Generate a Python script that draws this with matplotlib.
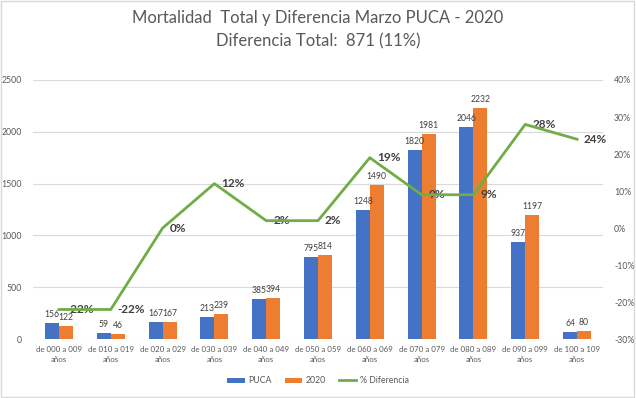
import numpy as np
import matplotlib.pyplot as plt

plt.rcParams['font.family'] = ['Lato', 'DejaVu Sans']

# Grupos de edad
grupos = ['de 000 a 009\naños', 'de 010 a 019\naños', 'de 020 a 029\naños',
          'de 030 a 039\naños', 'de 040 a 049\naños', 'de 050 a 059\naños',
          'de 060 a 069\naños', 'de 070 a 079\naños', 'de 080 a 089\naños',
          'de 090 a 099\naños', 'de 100 a 109\naños']

# Defunciones
puca = [156, 59, 167, 213, 385, 795, 1248, 1820, 2046, 937, 64]
anio_2020 = [122, 46, 167, 239, 394, 814, 1490, 1981, 2232, 1197, 80]

# % diferencia
diferencia = [-22, -22, 0, 12, 2, 2, 19, 9, 9, 28, 24]

azul = '#4472C4'
naranja = '#ED7D31'
verde = '#70AD47'
gris = '#595959'

fig = plt.figure(figsize=(6.36, 3.98), dpi=100)
ax = fig.add_axes([0.052, 0.148, 0.896, 0.651])
ax2 = ax.twinx()

x = np.arange(len(grupos))
w = 0.27
b1 = ax.bar(x - w / 2, puca, w, color=azul, label='PUCA', zorder=2)
b2 = ax.bar(x + w / 2, anio_2020, w, color=naranja, label='2020', zorder=2)

for barras in (b1, b2):
    for b in barras:
        ax.annotate(str(int(b.get_height())), (b.get_x() + b.get_width() / 2, b.get_height()),
                    xytext=(0, 3), textcoords='offset points', ha='center', va='bottom',
                    fontsize=6.2, color='#404040')

ax.set_xlim(-0.5, len(grupos) - 0.5)
ax.set_ylim(0, 2500)
ax.set_yticks(range(0, 2501, 500))
ax.grid(axis='y', color='#D9D9D9', linewidth=0.8, zorder=0)
ax.set_axisbelow(True)
ax.set_xticks(x)
ax.set_xticklabels(grupos, fontsize=5.7, color=gris, linespacing=1.5)

ax2.plot(x, diferencia, color=verde, linewidth=2, label='% Diferencia', zorder=5)
ax2.set_ylim(-30, 40)
ax2.set_yticks(range(-30, 41, 10))
ax2.set_yticklabels([f'{v}%' for v in range(-30, 41, 10)])
for xi, v in zip(x, diferencia):
    ax2.annotate(f'{v}%', (xi, v), xytext=(5, 0), textcoords='offset points',
                 ha='left', va='center', fontsize=8.5, fontweight='bold', color='#404040')

for a in (ax, ax2):
    for s in a.spines.values():
        s.set_visible(False)
    a.tick_params(length=0, labelsize=6.3, colors=gris)
ax.tick_params(axis='y', pad=8)
ax2.tick_params(axis='y', pad=8)
ax.tick_params(axis='x', pad=5, labelsize=5.7)

fig.text(0.5, 0.955, 'Mortalidad  Total y Diferencia Marzo PUCA - 2020', ha='center', va='center',
         fontsize=12, color=gris)
fig.text(0.5, 0.895, 'Diferencia Total:  871 (11%)', ha='center', va='center',
         fontsize=12, color=gris)

h1, l1 = ax.get_legend_handles_labels()
h2, l2 = ax2.get_legend_handles_labels()
fig.legend(h1 + h2, l1 + l2, loc='center', bbox_to_anchor=(0.5, 0.043), ncol=3, frameon=False,
           fontsize=6.3, handlelength=2.0, handleheight=0.6, handletextpad=0.4,
           columnspacing=1.5, labelcolor=gris)

fig.patches.append(plt.Rectangle((0.002, 0.003), 0.995, 0.994, transform=fig.transFigure,
                                 fill=False, edgecolor='#D9D9D9', linewidth=1))

fig.savefig('out.png', dpi=100)
